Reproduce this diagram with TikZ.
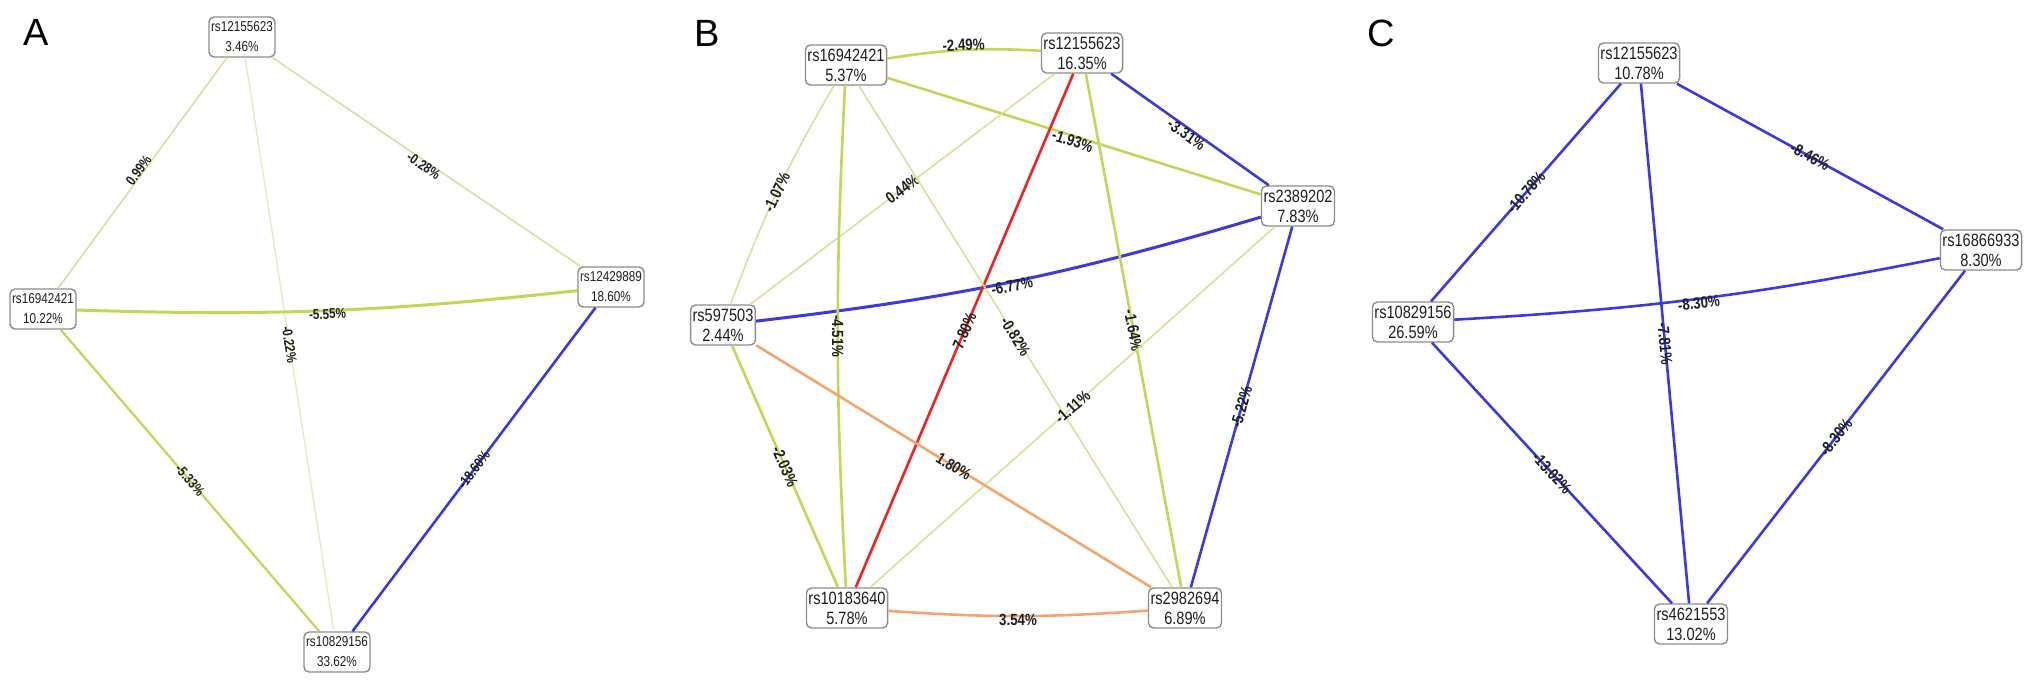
\documentclass[tikz,border=0pt]{standalone}
\usepackage{fontspec}
\usepackage{graphicx}
\setmainfont{Liberation Sans}
\newcommand\nx[1]{\scalebox{0.82}[1]{#1}}
\definecolor{cPale}{HTML}{E3EBBE}
\definecolor{cLight}{HTML}{D6E29A}
\definecolor{cMid}{HTML}{C3D756}
\definecolor{cBlue}{HTML}{3B3BDC}
\definecolor{cRed}{HTML}{EE2424}
\definecolor{cOrange}{HTML}{F2A56C}
\definecolor{cBox}{HTML}{8C8C8C}
\definecolor{cTxt}{HTML}{1E1E1E}
\begin{document}
\begin{tikzpicture}[x=1pt,y=-1pt,
  snpbox/.style={draw=cBox, line width=1.4pt, rounded corners=5pt, fill=white,
    align=center, text=cTxt, inner xsep=2pt, inner ysep=2pt, minimum height=40pt},
  snpA/.style={snpbox, font=\fontsize{14.3}{20}\selectfont},
  snpB/.style={snpbox, font=\fontsize{17.8}{20}\selectfont},
  lblA/.style={sloped, midway, inner sep=1pt, text=cTxt, font=\bfseries\fontsize{14.2}{15}\selectfont},
  lblB/.style={sloped, midway, inner sep=1pt, text=cTxt, font=\bfseries\fontsize{16.2}{17}\selectfont},
  lnPale/.style={draw=cPale, line width=1.3pt},
  lnLight/.style={draw=cLight, line width=1.6pt},
  lnMid/.style={draw=cMid, line width=2.6pt},
  lnBlue/.style={draw=cBlue, line width=2.6pt},
  lnRed/.style={draw=cRed, line width=2.6pt},
  lnOrange/.style={draw=cOrange, line width=2.6pt},
  panel/.style={font=\fontsize{38}{40}\selectfont, text=black, inner sep=0pt}
]
\useasboundingbox (0,0) rectangle (2032,687);
\fill[white] (0,0) rectangle (2032,687);

% ---------- Panel A ----------
\node[panel] (pA) at (36,32) {A};
\node[snpA] (aT) at (242,37) {\nx{rs12155623}\\\nx{3.46\%}};
\node[snpA] (aL) at (43,309) {\nx{rs16942421}\\\nx{10.22\%}};
\node[snpA] (aR) at (611,287) {\nx{rs12429889}\\\nx{18.60\%}};
\node[snpA] (aB) at (337,652) {\nx{rs10829156}\\\nx{33.62\%}};

\draw[lnLight] (aT) -- node[lblA, above=-2pt] (la1) {\nx{0.99\%}} (aL);
\draw[lnLight] (aT) -- node[lblA, below=-2pt] (la2) {\nx{-0.28\%}} (aR);
\draw[lnPale] (aT) -- node[lblA] (la3) {\nx{-0.22\%}} (aB);
\draw[lnMid, line width=3pt] (aL) to[bend right=4] node[lblA, below=-4pt] (la4) {\nx{-5.55\%}} (aR);
\draw[lnMid, line width=2.2pt] (aL) -- node[lblA] (la5) {\nx{-5.33\%}} (aB);
\draw[lnBlue] (aR) -- node[lblA] (la6) {\nx{-18.60\%}} (aB);

% ---------- Panel B ----------
\node[panel] (pB) at (707,33) {B};
\node[snpB] (b1) at (846,65) {\nx{rs16942421}\\\nx{5.37\%}};
\node[snpB] (b2) at (1082,53) {\nx{rs12155623}\\\nx{16.35\%}};
\node[snpB] (b3) at (1298,206) {\nx{rs2389202}\\\nx{7.83\%}};
\node[snpB] (b4) at (723,325) {\nx{rs597503}\\\nx{2.44\%}};
\node[snpB] (b5) at (847,608) {\nx{rs10183640}\\\nx{5.78\%}};
\node[snpB] (b6) at (1185,608) {\nx{rs2982694}\\\nx{6.89\%}};

\draw[lnMid] (b1) to[bend left=6] node[lblB, above=-3pt] (lb1) {\nx{-2.49\%}} (b2);
\draw[lnBlue] (b2) -- node[lblB, below=-2pt] (lb2) {\nx{-3.31\%}} (b3);
\draw[lnMid] (b1) -- node[lblB, below=-3pt] (lb3) {\nx{-1.93\%}} (b3);
\draw[lnLight] (b2) -- node[lblB] (lb4) {\nx{0.44\%}} (b4);
\draw[lnLight] (b1) to[bend right=5] node[lblB] (lb5) {\nx{-1.07\%}} (b4);
\draw[lnBlue, line width=3pt] (b4) to[bend right=5] node[lblB, below=-4pt] (lb6) {\nx{-6.77\%}} (b3);
\draw[lnMid] (b1) to[bend right=3] node[lblB] (lb7) {\nx{-4.51\%}} (b5);
\draw[lnRed] (b2) -- node[lblB] (lb8) {\nx{7.80\%}} (b5);
\draw[lnLight] (b1) -- node[lblB] (lb9) {\nx{-0.82\%}} (b6);
\draw[lnMid] (b2) -- node[lblB] (lb10) {\nx{-1.64\%}} (b6);
\draw[lnBlue] (b3) -- node[lblB] (lb11) {\nx{-5.22\%}} (b6);
\draw[lnLight] (b3) -- node[lblB] (lb12) {\nx{-1.11\%}} (b5);
\draw[lnMid] (b4) -- node[lblB] (lb13) {\nx{-2.03\%}} (b5);
\draw[lnOrange] (b4) -- node[lblB] (lb14) {\nx{1.80\%}} (b6);
\draw[lnOrange] (b5) to[bend right=4] node[lblB, below=-4pt] (lb15) {\nx{3.54\%}} (b6);

% ---------- Panel C ----------
\node[panel] (pC) at (1381,33) {C};
\node[snpB] (c1) at (1639,63) {\nx{rs12155623}\\\nx{10.78\%}};
\node[snpB] (c2) at (1981,250) {\nx{rs16866933}\\\nx{8.30\%}};
\node[snpB] (c3) at (1413,322) {\nx{rs10829156}\\\nx{26.59\%}};
\node[snpB] (c4) at (1691,624) {\nx{rs4621553}\\\nx{13.02\%}};

\draw[lnBlue] (c1) -- node[lblB] (lc1) {\nx{-10.78\%}} (c3);
\draw[lnBlue] (c1) -- node[lblB] (lc2) {\nx{-8.46\%}} (c2);
\draw[lnBlue] (c3) to[bend right=4] node[lblB, below=-4pt] (lc3) {\nx{-8.30\%}} (c2);
\draw[lnBlue] (c1) -- node[lblB] (lc4) {\nx{-7.81\%}} (c4);
\draw[lnBlue] (c3) -- node[lblB] (lc5) {\nx{-13.02\%}} (c4);
\draw[lnBlue] (c2) -- node[lblB] (lc6) {\nx{-8.30\%}} (c4);
\end{tikzpicture}
\end{document}
